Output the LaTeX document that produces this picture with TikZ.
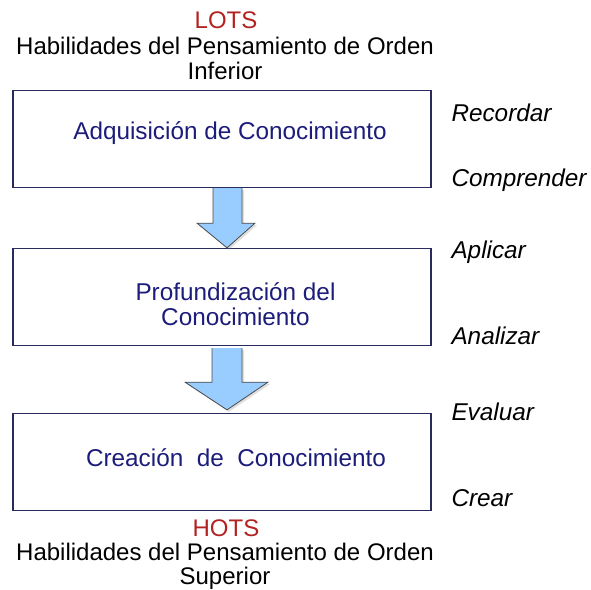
\documentclass[tikz,border=0pt]{standalone}
\usepackage{fontspec}
\setmainfont{Liberation Sans}
\usetikzlibrary{calc,shadows}
\definecolor{lotsred}{HTML}{B22222}
\definecolor{boxblue}{HTML}{1C1C7A}
\definecolor{boxline}{HTML}{2A2A5C}
\definecolor{arrowfill}{HTML}{99CCFF}
\begin{document}
\begin{tikzpicture}[x=1pt, y=-1pt,
      stage/.style = {draw=boxline, line width=1.3pt, minimum width=418pt,
                      minimum height=97pt, align=center, text=boxblue,
                      font=\fontsize{24.3}{24}\selectfont},
      head/.style = {align=center, font=\fontsize{24}{25}\selectfont},
      level/.style = {anchor=west, font=\fontsize{24.3}{25}\selectfont\itshape},
      blockarrow/.style = {draw=black!70, fill=arrowfill, line width=0.8pt,
                           line join=miter,
                           drop shadow={opacity=0.25, shadow xshift=2pt,
                                        shadow yshift=-2pt}}]
    \useasboundingbox (0,0) rectangle (591,589);

    % headings
    \node[head, text=lotsred] (lots) at (226,20) {LOTS};
    \node[head, anchor=north] (lotstext) at (225,34)
        {Habilidades del Pensamiento de Orden\\Inferior};
    \node[head, text=lotsred] (hots) at (226,528) {HOTS};
    \node[head, anchor=north, font=\fontsize{24}{24}\selectfont] (hotstext) at (225,540)
        {Habilidades del Pensamiento de Orden\\Superior};

    % stages
    \node[stage] (adq) at (222,139)
        {\hspace*{16pt}\raisebox{0pt}[0pt][0pt]{Adquisición de Conocimiento}};
    \node[stage] (prof) at (222,297)
        {\hspace*{27pt}\raisebox{-17pt}[0pt][0pt]{\begin{tabular}{@{}c@{}}Profundización del\\
         Conocimiento\end{tabular}}};
    \node[stage] (crea) at (222,462)
        {\hspace*{28pt}\raisebox{-4.5pt}[0pt][0pt]{Creación~ de~ Conocimiento}};

    % thinking levels
    \node[level] (recordar) at (448,113) {Recordar};
    \node[level] (comprender) at (448,180) {Comprender};
    \node[level] (aplicar) at (448,252) {Aplicar};
    \node[level] (analizar) at (448,336) {Analizar};
    \node[level] (evaluar) at (448,412) {Evaluar};
    \node[level] (crear) at (448,498) {Crear};

    % block arrows
    \draw[blockarrow] ($(adq.south)+(-9,0)$) -- ($(adq.south)+(-9,35)$)
        -- ($(adq.south)+(-25,35)$) -- ($(prof.north)+(5,0)$)
        -- ($(adq.south)+(33,35)$) -- ($(adq.south)+(20,35)$)
        -- ($(adq.south)+(20,0)$);
    \draw[blockarrow] ($(prof.south)+(-10,2)$) -- ($(prof.south)+(-10,36)$)
        -- ($(prof.south)+(-37,36)$) -- ($(crea.north)+(5,-3)$)
        -- ($(prof.south)+(46,36)$) -- ($(prof.south)+(20,36)$)
        -- ($(prof.south)+(20,2)$);
\end{tikzpicture}
\end{document}
